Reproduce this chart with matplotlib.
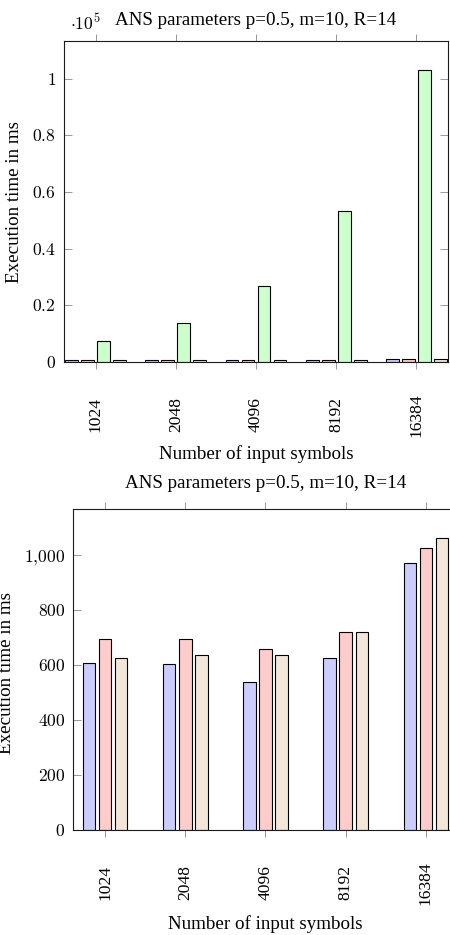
import matplotlib
matplotlib.use("Agg")
import matplotlib.pyplot as plt
import numpy as np

plt.rcParams['font.family'] = ['Liberation Serif', 'DejaVu Serif']
plt.rcParams['mathtext.fontset'] = 'cm'

# ---- data ----
sizes = ["1024", "2048", "4096", "8192", "16384"]
series_blue = [608, 604, 539, 625, 973]
series_red = [697, 697, 661, 723, 1027]
series_green = [7420, 13900, 26860, 53360, 103000]
series_beige = [626, 637, 639, 720, 1063]

top_yticks = [0, 20000, 40000, 60000, 80000, 100000]
top_yticklabels = ["$0$", "$0.2$", "$0.4$", "$0.6$", "$0.8$", "$1$"]
bot_yticks = [0, 200, 400, 600, 800, 1000]
bot_yticklabels = ["$0$", "$200$", "$400$", "$600$", "$800$", "$1{,}000$"]

title = "ANS parameters p=0.5, m=10, R=14"
xlabel = "Number of input symbols"
ylabel = "Execution time in ms"

c_blue = (204/255, 204/255, 1.0)
c_red = (1.0, 204/255, 204/255)
c_green = (204/255, 1.0, 204/255)
c_beige = (242/255, 230/255, 217/255)

W, H = 450, 935
fig = plt.figure(figsize=(W/100, H/100), dpi=100)

def px(x, y):
    return x / W, 1 - y / H

TICK_FS = 12.6
LAB_FS = 13.7

def style_axes(ax, yticks, yticklabels, ymax):
    ax.set_xlim(-0.4, 4.4)
    ax.set_ylim(0, ymax)
    ax.set_xticks(range(len(sizes)))
    ax.set_xticklabels(sizes, rotation=90, va='center', fontsize=TICK_FS)
    ax.set_yticks(yticks)
    ax.set_yticklabels(yticklabels, fontsize=TICK_FS)
    ax.tick_params(axis='x', direction='out', top=True, bottom=True,
                   length=5, width=0.7, color='0.6', pad=33)
    ax.tick_params(axis='y', direction='in', left=True, right=True,
                   length=6, width=0.7, color='0.6', pad=5.5)
    for s in ax.spines.values():
        s.set_linewidth(0.8)
        s.set_color('0.1')

# top axes
ax1 = fig.add_axes([63.5/W, (H-362)/H, 385/W, 321/H])
x = np.arange(len(sizes))
bw = 0.16
kw = dict(edgecolor='black', linewidth=0.8)
ax1.bar(x - 0.3, series_blue, bw, color=c_blue, **kw)
ax1.bar(x - 0.1, series_red, bw, color=c_red, **kw)
ax1.bar(x + 0.1, series_green, bw, color=c_green, **kw)
ax1.bar(x + 0.3, series_beige, bw, color=c_beige, **kw)
style_axes(ax1, top_yticks, top_yticklabels, 1.1 * max(series_green))

# bottom axes
ax2 = fig.add_axes([73/W, (H-830)/H, 385/W, 321/H])
ax2.bar(x - 0.2, series_blue, 0.155, color=c_blue, **kw)
ax2.bar(x, series_red, 0.155, color=c_red, **kw)
ax2.bar(x + 0.2, series_beige, 0.155, color=c_beige, **kw)
style_axes(ax2, bot_yticks, bot_yticklabels, 1.1 * max(series_beige))

# titles
fig.text(*px(256, 25), title, ha='center', va='baseline', fontsize=LAB_FS)
fig.text(*px(265.5, 488), title, ha='center', va='baseline', fontsize=LAB_FS)
# x labels
fig.text(*px(256, 459), xlabel, ha='center', va='baseline', fontsize=LAB_FS)
fig.text(*px(265.5, 929), xlabel, ha='center', va='baseline', fontsize=LAB_FS)
# y labels
fig.text(*px(15, 201.5), ylabel, ha='center', va='center', rotation=90, fontsize=LAB_FS)
fig.text(*px(7, 673), ylabel, ha='center', va='center', rotation=90, fontsize=LAB_FS)
# exponent
fig.text(*px(70, 30), r"$\cdot 10^{5}$", ha='left', va='baseline', fontsize=TICK_FS)

fig.savefig("out.png", dpi=100)
